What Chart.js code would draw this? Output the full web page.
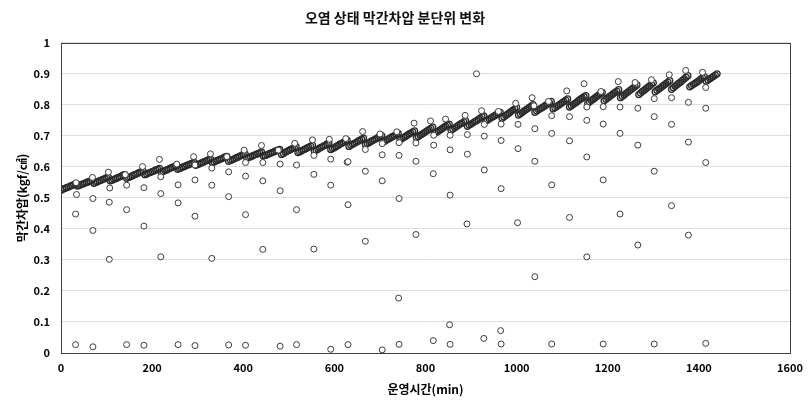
<!DOCTYPE html>
<html><head><meta charset="utf-8">
<script src="https://cdn.jsdelivr.net/npm/chart.js@4.4.1/dist/chart.umd.min.js"></script>
<style>html,body{margin:0;padding:0;background:#fff}#wrap{width:811px;height:408px}</style>
</head><body><div id="wrap"><canvas id="c" width="811" height="408"></canvas></div>
<script>
const chartTitle = '오염 상태 막간차압 분단위 변화';
const xAxisTitle = '운영시간(min)';
const yAxisTitle = '막간차압(kgf/㎠)';
const xTickRange = {min: 0, max: 1600, step: 200};
const yTickRange = {min: 0, max: 1, step: 0.1};

// regular samples every 4 minutes, t = 0 ... 1440
const sampleStepMin = 4;
const bandValues = [
0.525,0.528,0.530,0.533,0.535,0.538,0.540,0.543,0.545,
0.538,0.540,0.543,0.545,0.547,0.550,0.552,0.554,0.557,
0.547,0.550,0.552,0.555,0.557,0.560,0.562,0.565,0.567,
0.555,0.557,0.560,0.562,0.565,0.567,0.570,0.573,0.575,
0.563,0.566,0.568,0.571,0.574,0.576,0.579,0.582,0.584,0.587,
0.575,0.577,0.580,0.582,0.585,0.587,0.590,0.592,0.595,
0.583,0.585,0.588,0.590,0.593,0.596,0.598,0.601,0.603,
0.592,0.595,0.597,0.600,0.602,0.605,0.607,0.610,0.612,0.615,
0.605,0.608,0.610,0.613,0.615,0.618,0.620,0.623,0.626,
0.614,0.616,0.619,0.621,0.624,0.626,0.629,0.632,0.634,
0.618,0.621,0.623,0.626,0.629,0.631,0.634,0.637,0.640,0.642,
0.628,0.630,0.633,0.635,0.638,0.640,0.643,0.645,0.648,
0.635,0.637,0.639,0.642,0.644,0.647,0.649,0.652,0.654,0.656,
0.640,0.643,0.647,0.650,0.653,0.656,0.659,0.662,0.665,
0.646,0.649,0.652,0.655,0.658,0.661,0.664,0.667,0.670,
0.651,0.654,0.657,0.661,0.664,0.667,0.670,0.674,0.677,
0.656,0.659,0.662,0.666,0.669,0.673,0.676,0.679,0.683,0.686,
0.666,0.670,0.673,0.676,0.679,0.683,0.686,0.689,0.693,
0.672,0.675,0.678,0.682,0.685,0.688,0.691,0.695,0.698,0.701,
0.681,0.684,0.688,0.691,0.695,0.698,0.701,0.705,0.708,
0.688,0.691,0.695,0.698,0.702,0.706,0.709,0.713,0.716,
0.694,0.698,0.702,0.705,0.709,0.713,0.717,0.721,0.724,0.728,
0.708,0.712,0.715,0.719,0.723,0.727,0.731,0.735,0.738,
0.718,0.722,0.726,0.730,0.734,0.738,0.741,0.745,0.749,
0.731,0.735,0.738,0.742,0.746,0.749,0.753,0.757,0.761,0.764,
0.748,0.751,0.755,0.758,0.762,0.765,0.769,0.773,0.776,
0.757,0.761,0.766,0.770,0.774,0.779,0.783,0.787,0.792,
0.767,0.771,0.775,0.780,0.784,0.788,0.792,0.796,0.801,
0.776,0.780,0.784,0.788,0.791,0.795,0.799,0.803,0.807,0.811,
0.787,0.791,0.795,0.799,0.803,0.807,0.811,0.815,0.819,
0.793,0.797,0.801,0.805,0.809,0.814,0.818,0.822,0.826,0.830,
0.805,0.809,0.814,0.818,0.822,0.827,0.831,0.836,0.840,
0.813,0.818,0.822,0.827,0.831,0.836,0.840,0.844,0.849,
0.823,0.828,0.832,0.837,0.841,0.846,0.850,0.855,0.859,0.864,
0.833,0.838,0.843,0.847,0.852,0.857,0.861,0.866,0.871,
0.842,0.847,0.851,0.855,0.860,0.864,0.869,0.873,0.878,
0.850,0.855,0.860,0.865,0.870,0.874,0.879,0.884,0.889,0.894,
0.858,0.862,0.866,0.870,0.874,0.878,0.883,0.887,0.891,
0.876,0.880,0.884,0.888,0.892,0.896,0.900
];

// readings taken around each backwash (minute, value)
const backwashTimes = [
33,34,32,32, 69,70,70,70, 104,107,106,106, 141,144,144,144, 179,182,182,182,
216,219,219,219, 254,257,257,257, 291,294,294,294,294, 328,331,331,331,
364,368,368,368, 402,405,405,405,405, 440,443,443,443, 477,481,481,481,
513,517,517,517, 552,555,555,555, 589,592,592,592, 625,628,630,630,630,
662,668,668,668, 700,705,705,705,705, 737,742,742,742,741,742,
775,779,779,779, 811,818,818,817,817, 844,854,854,854,853,854,
887,892,892,891, 912, 923,929,929,929,928, 960,966,966,966,965,966,
998,1003,1003,1002, 1034,1038,1040,1040,1040, 1070,1077,1077,1077,1077,
1110,1116,1116,1116, 1148,1154,1154,1154,1154, 1185,1190,1190,1190,1190,
1223,1227,1227,1227, 1260,1266,1266,1266, 1296,1302,1302,1302,1302,
1335,1340,1340,1340, 1371,1377,1377,1377, 1408,1415,1415,1415,1415
];
const backwashValues = [
0.549,0.511,0.448,0.027, 0.566,0.498,0.395,0.020, 0.583,0.532,0.486,0.302, 0.575,0.541,0.462,0.027, 0.601,0.533,0.409,0.025,
0.624,0.568,0.514,0.310, 0.609,0.542,0.484,0.027, 0.633,0.606,0.558,0.441,0.024, 0.642,0.596,0.541,0.305,
0.633,0.584,0.504,0.026, 0.654,0.614,0.570,0.446,0.025, 0.669,0.614,0.555,0.334, 0.654,0.609,0.523,0.022,
0.676,0.606,0.462,0.027, 0.687,0.637,0.576,0.335, 0.689,0.625,0.541,0.012, 0.691,0.615,0.617,0.478,0.027,
0.714,0.656,0.586,0.360, 0.706,0.675,0.639,0.555,0.010, 0.713,0.678,0.637,0.498,0.177,0.028,
0.741,0.677,0.618,0.382, 0.748,0.702,0.670,0.578,0.040, 0.754,0.702,0.655,0.509,0.091,0.028,
0.766,0.704,0.641,0.416, 0.900, 0.781,0.737,0.699,0.590,0.047, 0.779,0.738,0.685,0.530,0.072,0.029,
0.805,0.737,0.659,0.420, 0.823,0.797,0.723,0.618,0.246, 0.811,0.765,0.708,0.542,0.029,
0.845,0.762,0.684,0.437, 0.868,0.793,0.750,0.632,0.310, 0.843,0.794,0.738,0.558,0.029,
0.875,0.793,0.708,0.448, 0.872,0.789,0.670,0.348, 0.881,0.820,0.762,0.586,0.029,
0.897,0.823,0.737,0.475, 0.911,0.808,0.680,0.380, 0.905,0.856,0.789,0.614,0.031
];

const bandPoints = bandValues.map((v, i) => ({x: i * sampleStepMin, y: v}));
const backwashPoints = backwashTimes.map((t, i) => ({x: t, y: backwashValues[i]}));

const FONT = "'Noto Sans CJK KR', 'Noto Sans', sans-serif";
const markerStyle = {
  showLine: false, pointStyle: 'circle', pointRadius: 3, pointHoverRadius: 3,
  pointBorderWidth: 1, pointBorderColor: '#3c3c3c', pointBackgroundColor: '#ffffff'
};

const frame = {
  id: 'frame',
  afterDraw(chart) {
    const {ctx, chartArea: a} = chart;
    ctx.save();
    ctx.strokeStyle = '#404040';
    ctx.lineWidth = 1;
    ctx.strokeRect(Math.round(a.left) + 0.5, Math.round(a.top) + 0.5,
      Math.round(a.right - a.left), Math.round(a.bottom - a.top));
    ctx.restore();
  }
};

new Chart(document.getElementById('c'), {
  type: 'scatter',
  data: {
    datasets: [
      Object.assign({label: 'backwash', data: backwashPoints}, markerStyle),
      Object.assign({}, markerStyle, {label: 'band', data: bandPoints,
        pointBackgroundColor: 'rgba(255,255,255,0)', pointBorderColor: '#2a2a2a', pointBorderWidth: 1.3})
    ]
  },
  options: {
    responsive: false, animation: false,
    layout: {padding: {left: 0, right: 21, top: 0, bottom: 0}},
    plugins: {
      legend: {display: false}, tooltip: {enabled: false},
      title: {display: true, text: chartTitle, color: '#111',
        font: {family: FONT, size: 14, weight: '600'}, padding: {top: 9, bottom: 17}}
    },
    scales: {
      x: {
        type: 'linear', min: xTickRange.min, max: xTickRange.max,
        afterFit(s) { s.height = 55; },
        grid: {display: false, drawTicks: false}, border: {display: false},
        ticks: {stepSize: xTickRange.step, padding: 8, color: '#000',
          callback: v => String(v),
          font: {family: FONT, size: 11, weight: 'bold'}},
        title: {display: true, text: xAxisTitle, color: '#000',
          font: {family: FONT, size: 12, weight: 'bold'}, padding: {top: 0, bottom: 11}}
      },
      y: {
        type: 'linear', min: yTickRange.min, max: yTickRange.max,
        afterFit(s) { s.width = 61; },
        grid: {color: '#dedede', lineWidth: 1, drawTicks: false}, border: {display: false},
        ticks: {stepSize: yTickRange.step, padding: 11, color: '#000',
          callback: v => String(Math.round(v * 10) / 10),
          font: {family: FONT, size: 11, weight: 'bold'}},
        title: {display: true, text: yAxisTitle, color: '#000',
          font: {family: FONT, size: 12, weight: 'bold'}, padding: {top: 15, bottom: 0}}
      }
    }
  },
  plugins: [frame]
});
</script></body></html>
